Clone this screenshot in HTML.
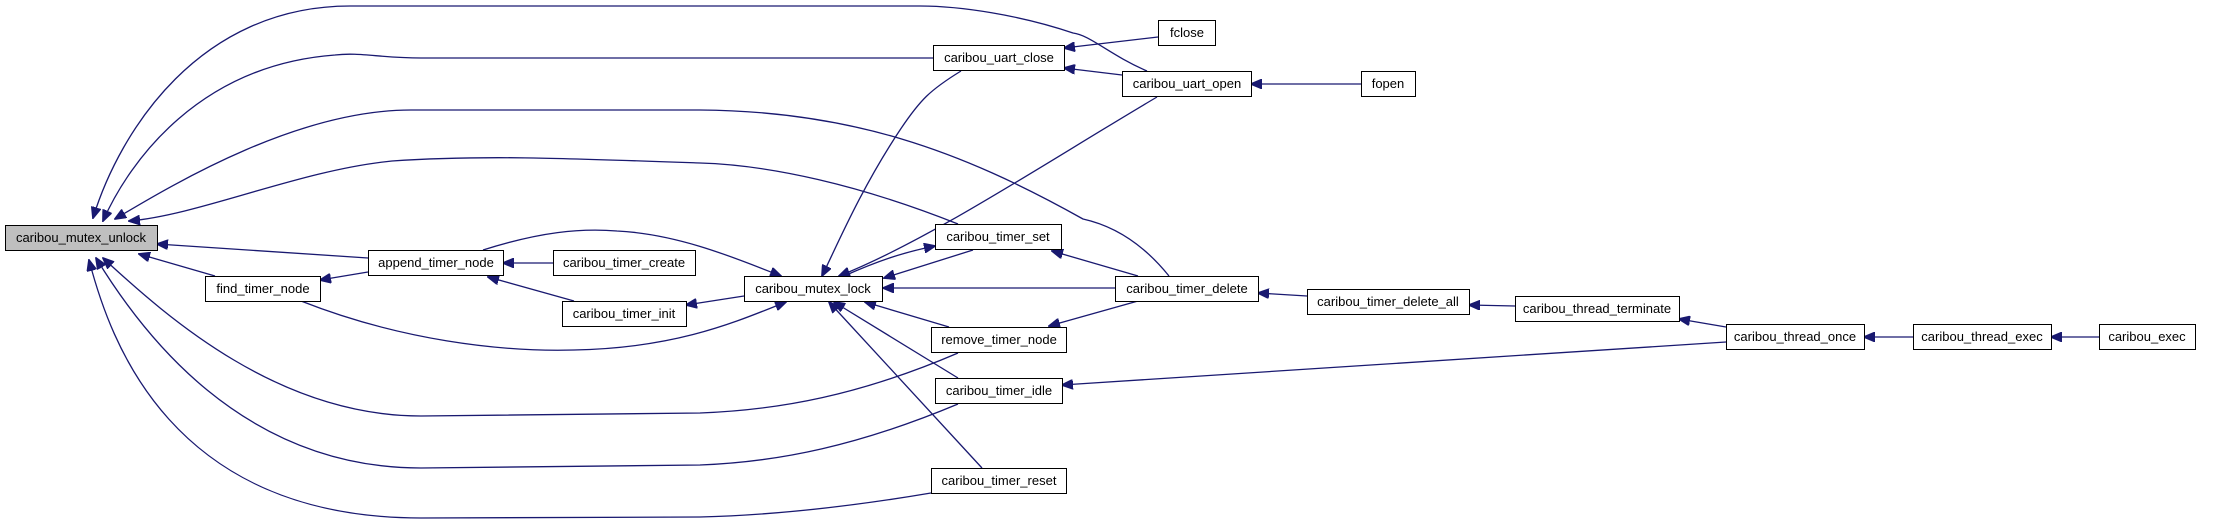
<!DOCTYPE html>
<html><head><meta charset="utf-8"><style>
html,body{margin:0;padding:0;background:#fff;}
svg{display:block;}
text{font-family:"Liberation Sans",sans-serif;font-size:13px;fill:#000;}
</style></head><body>
<svg width="2221" height="520" viewBox="0 0 2221 520" xmlns="http://www.w3.org/2000/svg">
<defs>
<marker id="a" markerWidth="12" markerHeight="10" refX="11" refY="5" orient="auto" markerUnits="userSpaceOnUse">
<path d="M0,0 L12,5 L0,10 Z" fill="#191970" stroke="#191970"/>
</marker>
</defs>
<g fill="none" stroke="#191970" stroke-width="1.3" marker-end="url(#a)">
<!-- to unlock -->
<path d="M1147,71 C1110,55 1090,35 1073,33 C1020,15 960,6 920,6 L350,6 C200,6 120,130 93,218"/>
<path d="M933,58 L421,58 C380,58 360,52 335,55 C200,65 130,160 103,221"/>
<path d="M1169,276 C1140,240 1110,225 1083,219 C960,150 850,111 700,110 L411,110 C300,110 180,180 115,219"/>
<path d="M958,224 C860,185 770,165 700,163 C560,158 480,155 392,161 C300,170 200,215 129,221"/>
<path d="M368,258 L157,244"/>
<path d="M215,276 L139,254"/>
<path d="M958,353 C860,395 780,410 700,413 L421,416 C280,416 170,320 103,258"/>
<path d="M958,404 C860,445 780,462 700,465 L421,468 C240,468 140,330 96,258"/>
<path d="M931,493 C860,505 780,515 700,517 L421,518 C170,518 110,340 89,260"/>
<!-- to lock -->
<path d="M483,250 C540,232 580,228 617,231 C680,234 740,260 781,276"/>
<path d="M301,301 C400,340 500,352 574,350 C680,348 740,320 786,302"/>
<path d="M744,296 L686,305"/>
<path d="M961,71 C930,90 920,100 900,130 C860,190 835,250 822,276"/>
<path d="M1157,97 C1050,160 930,240 839,276"/>
<path d="M973,250 L884,278"/>
<path d="M844,276 C880,260 905,252 935,246"/>
<path d="M1115,288 L883,288"/>
<path d="M949,327 L865,302"/>
<path d="M958,378 L834,302"/>
<path d="M982,468 L829,302"/>
<!-- others -->
<path d="M1158,37 L1064,48"/>
<path d="M1122,75 L1064,68"/>
<path d="M1361,84 L1251,84"/>
<path d="M553,263 L503,263"/>
<path d="M368,272 L320,280"/>
<path d="M574,301 L488,277"/>
<path d="M1138,276 L1052,251"/>
<path d="M1138,301 L1049,326"/>
<path d="M1307,296 L1258,293"/>
<path d="M1515,306 L1469,305"/>
<path d="M1726,327 L1679,319"/>
<path d="M1726,342 L1062,385"/>
<path d="M1913,337 L1864,337"/>
<path d="M2099,337 L2051,337"/>
</g>
<g stroke="#000" stroke-width="1">
<rect x="5.5" y="225.5" width="152" height="25" fill="#bfbfbf"/>
<rect x="368.5" y="250.5" width="135" height="25" fill="#fff"/>
<rect x="553.5" y="250.5" width="142" height="25" fill="#fff"/>
<rect x="205.5" y="276.5" width="115" height="25" fill="#fff"/>
<rect x="562.5" y="301.5" width="124" height="25" fill="#fff"/>
<rect x="744.5" y="276.5" width="138" height="25" fill="#fff"/>
<rect x="933.5" y="45.5" width="131" height="25" fill="#fff"/>
<rect x="1158.5" y="20.5" width="57" height="25" fill="#fff"/>
<rect x="1122.5" y="71.5" width="129" height="25" fill="#fff"/>
<rect x="1361.5" y="71.5" width="54" height="25" fill="#fff"/>
<rect x="935.5" y="224.5" width="126" height="25" fill="#fff"/>
<rect x="1115.5" y="276.5" width="143" height="25" fill="#fff"/>
<rect x="931.5" y="327.5" width="135" height="25" fill="#fff"/>
<rect x="935.5" y="378.5" width="127" height="25" fill="#fff"/>
<rect x="931.5" y="468.5" width="135" height="25" fill="#fff"/>
<rect x="1307.5" y="289.5" width="162" height="25" fill="#fff"/>
<rect x="1515.5" y="296.5" width="164" height="25" fill="#fff"/>
<rect x="1726.5" y="324.5" width="138" height="25" fill="#fff"/>
<rect x="1913.5" y="324.5" width="138" height="25" fill="#fff"/>
<rect x="2099.5" y="324.5" width="96" height="25" fill="#fff"/>
</g>
<g text-anchor="middle">
<text x="81" y="242">caribou_mutex_unlock</text>
<text x="436" y="267">append_timer_node</text>
<text x="624" y="267">caribou_timer_create</text>
<text x="263" y="293">find_timer_node</text>
<text x="624" y="318">caribou_timer_init</text>
<text x="813" y="293">caribou_mutex_lock</text>
<text x="999" y="62">caribou_uart_close</text>
<text x="1187" y="37">fclose</text>
<text x="1187" y="88">caribou_uart_open</text>
<text x="1388" y="88">fopen</text>
<text x="998" y="241">caribou_timer_set</text>
<text x="1187" y="293">caribou_timer_delete</text>
<text x="999" y="344">remove_timer_node</text>
<text x="999" y="395">caribou_timer_idle</text>
<text x="999" y="485">caribou_timer_reset</text>
<text x="1388" y="306">caribou_timer_delete_all</text>
<text x="1597" y="313">caribou_thread_terminate</text>
<text x="1795" y="341">caribou_thread_once</text>
<text x="1982" y="341">caribou_thread_exec</text>
<text x="2147" y="341">caribou_exec</text>
</g>
</svg>
</body></html>
